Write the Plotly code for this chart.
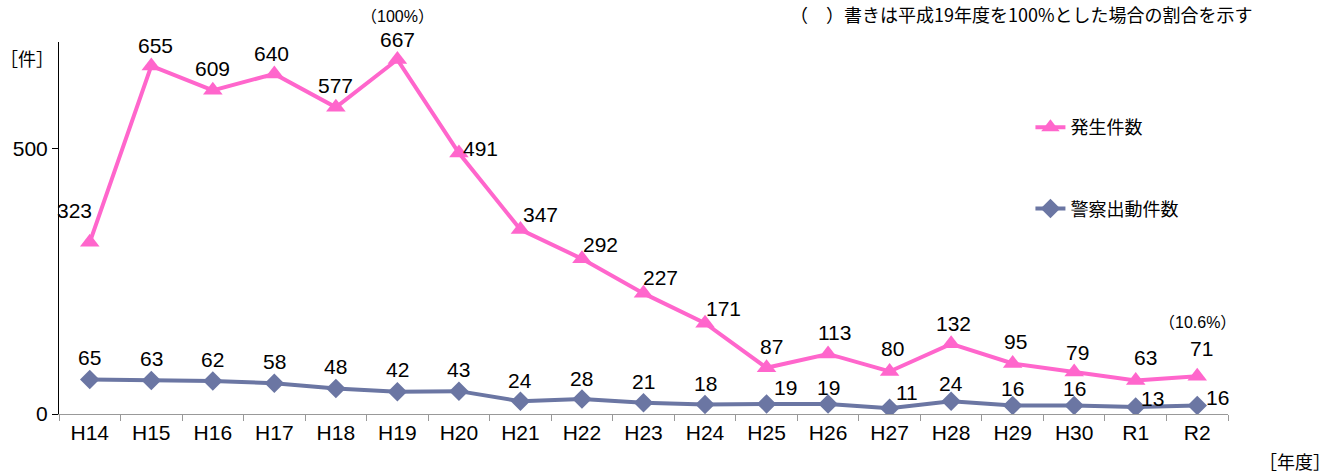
import plotly.graph_objects as go

years = ["H14", "H15", "H16", "H17", "H18", "H19", "H20", "H21", "H22", "H23",
         "H24", "H25", "H26", "H27", "H28", "H29", "H30", "R1", "R2"]
occurrences = [323, 655, 609, 640, 577, 667, 491, 347, 292, 227, 171, 87, 113, 80, 132, 95, 79, 63, 71]
dispatches = [65, 63, 62, 58, 48, 42, 43, 24, 28, 21, 18, 19, 19, 11, 24, 16, 16, 13, 16]
name_occ = "発生件数"
name_disp = "警察出動件数"

# label offsets (pixels) for the data labels
occ_dx = [-15, 4, 0, -3, 0, 0, 22, 20, 19, 17, 18, 5, 6, 3, 2, 3, 3, 10, 4]
occ_dy = [32, 20, 22, 20, 22, 20, 5, 15, 14, 16, 15, 21, 21, 23, 20, 22, 20, 23, 28]
disp_dx = [0, 0, 0, 0, 0, 0, 0, 0, 0, 0, 0, 19, 0, 17, 0, 0, 0, 17, 20]
disp_dy = [22, 22, 22, 22, 22, 22, 22, 21, 21, 21, 21, 16, 16, 16, 18, 17, 17, 9, 8]

PINK = "#FF66CC"
BLUE = "#6B76A3"
FONT = "Liberation Sans, Noto Sans CJK JP"
JP = "Noto Sans CJK JP"

fig = go.Figure()
fig.add_trace(go.Scatter(
    x=years, y=occurrences, name=name_occ, mode="lines+markers",
    line=dict(color=PINK, width=4),
    marker=dict(symbol="triangle-up", size=17, color=PINK),
    legendgroup="a"))
fig.add_trace(go.Scatter(
    x=years, y=dispatches, name=name_disp, mode="lines+markers",
    line=dict(color=BLUE, width=4),
    marker=dict(symbol="diamond", size=15, color=BLUE),
    legendgroup="b"))

ann = []
for i, y in enumerate(years):
    ann.append(dict(x=y, y=occurrences[i], text=str(occurrences[i]), showarrow=False,
                    xshift=occ_dx[i], yshift=occ_dy[i], font=dict(size=21, color="black", family=FONT)))
    ann.append(dict(x=y, y=dispatches[i], text=str(dispatches[i]), showarrow=False,
                    xshift=disp_dx[i], yshift=disp_dy[i], font=dict(size=21, color="black", family=FONT)))

ann.append(dict(x="H19", y=occurrences[5], text="（100%）", showarrow=False, yshift=43,
                font=dict(size=16, color="black", family=FONT)))
ann.append(dict(x="R2", y=occurrences[-1], text="（10.6%）", showarrow=False, yshift=54, xshift=0,
                font=dict(size=16, color="black", family=FONT)))
ann.append(dict(xref="paper", yref="paper", x=1.023, y=1.075, xanchor="right", yanchor="middle",
                text="（　）書きは平成19年度を100%とした場合の割合を示す", showarrow=False,
                font=dict(size=18, color="black", family=JP)))
ann.append(dict(xref="paper", yref="paper", x=-0.027, y=0.957, xanchor="center", yanchor="middle",
                text="［件］", showarrow=False, font=dict(size=18, color="black", family=JP)))
ann.append(dict(xref="paper", yref="paper", x=1.057, y=-0.126, xanchor="center", yanchor="middle",
                text="［年度］", showarrow=False, font=dict(size=18, color="black", family=JP)))

fig.update_layout(
    width=1338, height=474,
    margin=dict(l=59, r=110, t=42, b=60),
    plot_bgcolor="white", paper_bgcolor="white",
    font=dict(family=FONT, size=18, color="black"),
    annotations=ann,
    showlegend=True,
    legend=dict(x=0.831, y=0.82, xanchor="left", yanchor="top", tracegroupgap=55,
                font=dict(size=18, family=JP), bgcolor="rgba(0,0,0,0)"),
    xaxis=dict(showline=True, linecolor="#999999", linewidth=1, ticks="outside",
               tickson="boundaries", ticklen=6, tickcolor="#999999", showgrid=False,
               tickfont=dict(size=21), range=[-0.5, 18.5]),
    yaxis=dict(range=[0, 700], tickvals=[0, 500], showline=True, linecolor="black",
               linewidth=1, ticks="outside", ticklen=6, tickcolor="black", showgrid=False,
               zeroline=False, tickfont=dict(size=21)),
)

fig.write_html("out.html", config={"displayModeBar": False},
               post_script="document.body.style.margin='0';")
